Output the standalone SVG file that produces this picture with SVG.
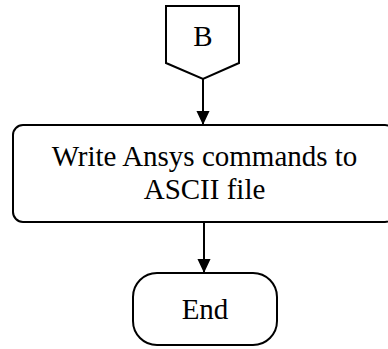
<svg xmlns="http://www.w3.org/2000/svg" width="388" height="349" viewBox="0 0 388 349">
<style>
.s{fill:#fff;stroke:#000;stroke-width:2}
.t{font-family:"Liberation Serif","Times New Roman",serif;font-size:29px;fill:#000;text-anchor:middle}
.c{stroke:#000;stroke-width:2;fill:none}
</style>
<defs>
<marker id="a" markerWidth="14" markerHeight="15" refX="15" refY="7" orient="auto" markerUnits="userSpaceOnUse" viewBox="0 0 15 14">
<path d="M0,0L15,7L0,14z" fill="#000"/>
</marker>
</defs>
<rect width="388" height="349" fill="#fff"/>
<g id="nodeB">
<path class="s" d="M166,6H239V63L203,79L166,63Z"/>
<text class="t" x="203" y="46">B</text>
</g>
<g id="nodeWrite">
<rect class="s" x="13" y="125" width="382" height="97" rx="10"/>
<text class="t" x="204.5" y="166">Write Ansys commands to</text>
<text class="t" x="204.5" y="199">ASCII file</text>
</g>
<g id="nodeEnd">
<rect class="s" x="133" y="273" width="144" height="72" rx="24"/>
<text class="t" x="205" y="319">End</text>
</g>
<g id="connectors">
<line class="c" x1="203" y1="79" x2="203" y2="125" marker-end="url(#a)"/>
<line class="c" x1="204" y1="223" x2="204" y2="273" marker-end="url(#a)"/>
</g>
</svg>
